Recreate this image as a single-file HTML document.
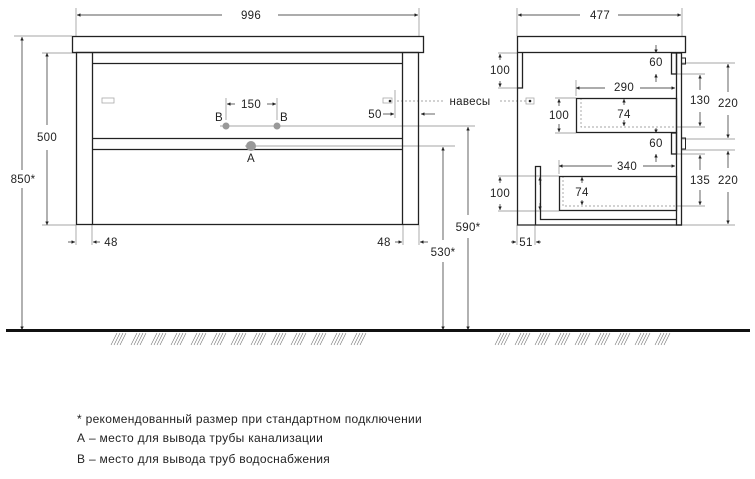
<!DOCTYPE html>
<html><head><meta charset="utf-8"><style>
html,body{margin:0;padding:0;background:#fff;width:755px;height:479px;overflow:hidden}
svg{display:block}
text{font-family:"Liberation Sans","DejaVu Sans",sans-serif;fill:#222}
</style></head><body>
<svg width="755" height="479" viewBox="0 0 755 479" xmlns="http://www.w3.org/2000/svg">
<defs>
<marker id="a" viewBox="0 0 6 6" refX="6" refY="3" markerWidth="5" markerHeight="5" orient="auto-start-reverse"><path d="M0,0L6,3L0,6z" fill="#222"/></marker>
<path id="hg" d="M0,13l6,-12m-3,12l6,-12m-3,12l6,-12m-3,12l6,-12" stroke="#777" stroke-width="0.6" fill="none"/>
</defs>
<g stroke="#888" stroke-width="0.7" fill="none">
<line x1="76" y1="8" x2="76" y2="36"/><line x1="419" y1="8" x2="419" y2="36"/>
<line x1="14" y1="36" x2="72" y2="36"/>
<line x1="42" y1="53" x2="76" y2="53"/><line x1="42" y1="225" x2="76" y2="225"/>
<line x1="76" y1="225" x2="76" y2="245"/><line x1="92" y1="225" x2="92" y2="245"/>
<line x1="403" y1="225" x2="403" y2="245"/><line x1="419" y1="225" x2="419" y2="245"/>
<line x1="226" y1="98" x2="226" y2="120"/><line x1="277" y1="98" x2="277" y2="120"/>
<line x1="395" y1="90" x2="395" y2="118"/>
<line x1="220" y1="126" x2="475" y2="126"/>
<line x1="245" y1="146" x2="455" y2="146"/>
<line x1="517" y1="8" x2="517" y2="36"/><line x1="682" y1="8" x2="682" y2="36"/>
<line x1="517" y1="225" x2="517" y2="245"/><line x1="535" y1="225" x2="535" y2="245"/>
<line x1="498" y1="53" x2="517" y2="53"/><line x1="498" y1="88" x2="522" y2="88"/>
<line x1="555" y1="98" x2="576" y2="98"/><line x1="555" y1="133" x2="576" y2="133"/>
<line x1="576" y1="80" x2="576" y2="96"/><line x1="559" y1="160" x2="559" y2="174"/>
<line x1="498" y1="176" x2="559" y2="176"/><line x1="498" y1="211" x2="559" y2="211"/>
<line x1="676" y1="74" x2="705" y2="74"/><line x1="676" y1="127" x2="705" y2="127"/>
<line x1="676" y1="154" x2="705" y2="154"/><line x1="676" y1="206" x2="705" y2="206"/>
<line x1="682" y1="63" x2="735" y2="63"/><line x1="682" y1="139" x2="735" y2="139"/>
<line x1="682" y1="150" x2="735" y2="150"/><line x1="682" y1="225" x2="735" y2="225"/>
</g>
<g stroke="#888" stroke-width="0.7" stroke-dasharray="2,2" fill="none">
<line x1="397" y1="101" x2="445" y2="101"/><line x1="500" y1="101" x2="528" y2="101"/>
<polyline points="581,98 581,127 676,127"/><polyline points="563,176 563,206 676,206"/>
</g>
<g stroke="#222" stroke-width="0.7" fill="none" marker-start="url(#a)" marker-end="url(#a)">
<line x1="77" y1="15" x2="222" y2="15" marker-end="none"/><line x1="278" y1="15" x2="418" y2="15" marker-start="none"/>
<line x1="22" y1="37" x2="22" y2="170" marker-end="none"/><line x1="22" y1="188" x2="22" y2="330" marker-start="none"/>
<line x1="47" y1="53" x2="47" y2="125" marker-end="none"/><line x1="47" y1="150" x2="47" y2="225" marker-start="none"/>
<line x1="227" y1="104" x2="235" y2="104" marker-end="none"/><line x1="267" y1="104" x2="276" y2="104" marker-start="none"/>
<line x1="383" y1="114" x2="394" y2="114" marker-start="none"/>
<line x1="435" y1="114" x2="421" y2="114" marker-start="none"/>
<line x1="68" y1="242" x2="75" y2="242" marker-start="none"/><line x1="100" y1="242" x2="93" y2="242" marker-start="none"/>
<line x1="395" y1="242" x2="402" y2="242" marker-start="none"/><line x1="428" y1="242" x2="420" y2="242" marker-start="none"/>
<line x1="468" y1="127" x2="468" y2="215" marker-end="none"/><line x1="468" y1="238" x2="468" y2="330" marker-start="none"/>
<line x1="443" y1="147" x2="443" y2="240" marker-end="none"/><line x1="443" y1="262" x2="443" y2="330" marker-start="none"/>
<line x1="518" y1="15" x2="580" y2="15" marker-end="none"/><line x1="618" y1="15" x2="681" y2="15" marker-start="none"/>
<line x1="500" y1="54" x2="500" y2="60" marker-end="none"/><line x1="500" y1="87" x2="500" y2="81" marker-end="none"/>
<line x1="576" y1="88" x2="605" y2="88" marker-end="none"/><line x1="640" y1="88" x2="675" y2="88" marker-start="none"/>
<line x1="559" y1="166" x2="612" y2="166" marker-end="none"/><line x1="643" y1="166" x2="675" y2="166" marker-start="none"/>
<line x1="559" y1="99" x2="559" y2="106" marker-end="none"/><line x1="559" y1="132" x2="559" y2="124" marker-end="none"/>
<line x1="624" y1="99" x2="624" y2="105" marker-end="none"/><line x1="624" y1="126" x2="624" y2="120" marker-end="none"/>
<line x1="656" y1="45" x2="656" y2="53" marker-start="none"/><line x1="656" y1="82" x2="656" y2="74" marker-start="none"/>
<line x1="656" y1="128" x2="656" y2="133" marker-start="none"/><line x1="656" y1="162" x2="656" y2="154" marker-start="none"/>
<line x1="540" y1="177" x2="540" y2="185" marker-end="none"/><line x1="540" y1="210" x2="540" y2="203" marker-end="none"/>
<line x1="582" y1="177" x2="582" y2="183" marker-end="none"/><line x1="582" y1="205" x2="582" y2="200" marker-end="none"/>
<line x1="500" y1="177" x2="500" y2="183" marker-end="none"/><line x1="500" y1="210" x2="500" y2="204" marker-end="none"/>
<line x1="700" y1="75" x2="700" y2="90" marker-end="none"/><line x1="700" y1="126" x2="700" y2="112" marker-end="none"/>
<line x1="700" y1="155" x2="700" y2="170" marker-end="none"/><line x1="700" y1="205" x2="700" y2="190" marker-end="none"/>
<line x1="728" y1="64" x2="728" y2="92" marker-end="none"/><line x1="728" y1="138" x2="728" y2="115" marker-end="none"/>
<line x1="728" y1="151" x2="728" y2="168" marker-end="none"/><line x1="728" y1="224" x2="728" y2="192" marker-end="none"/>
<line x1="511" y1="242" x2="516" y2="242" marker-start="none"/><line x1="541" y1="242" x2="536" y2="242" marker-start="none"/>
</g>
<g stroke="#222" stroke-width="1.3" fill="none">
<rect x="72.5" y="36.5" width="351" height="16"/>
<rect x="76.5" y="52.5" width="342" height="172"/>
<line x1="92.5" y1="53" x2="92.5" y2="225"/><line x1="402.5" y1="53" x2="402.5" y2="225"/>
<line x1="92" y1="63.5" x2="403" y2="63.5"/>
<line x1="92" y1="138.5" x2="403" y2="138.5"/><line x1="92" y1="149.5" x2="403" y2="149.5"/>
</g>
<g stroke="#aaa" stroke-width="0.8" fill="none"><rect x="102" y="98" width="12" height="5"/><rect x="383" y="98" width="9" height="5"/></g>
<circle cx="226" cy="126" r="3.5" fill="#999"/><circle cx="277" cy="126" r="3.5" fill="#999"/>
<circle cx="251" cy="146" r="5" fill="#999"/>
<circle cx="390" cy="101" r="1.3" fill="#222"/>
<g stroke="#222" stroke-width="1.3" fill="none">
<rect x="517.5" y="36.5" width="168" height="16"/>
<polyline points="517.5,53 517.5,225 682,225"/>
<polyline points="522.5,53 522.5,88 517.5,88"/>
<rect x="676.5" y="53" width="5" height="172"/>
<rect x="671.5" y="53" width="5" height="21"/><rect x="671.5" y="133" width="5" height="21"/>
<rect x="681.5" y="58" width="4" height="6" stroke-width="1"/><rect x="681.5" y="138" width="4" height="11" stroke-width="1"/>
<rect x="576.5" y="98.5" width="100" height="34"/>
<rect x="559.5" y="176.5" width="117" height="34"/>
<polyline points="535.5,225 535.5,166.5 540.5,166.5 540.5,219.5 676,219.5"/>
</g>
<rect x="526" y="98" width="8" height="6" stroke="#aaa" stroke-width="0.8" fill="none"/>
<circle cx="530" cy="101" r="1.3" fill="#222"/>
<rect x="6" y="329" width="744" height="3" fill="#111"/>
<g>
<use href="#hg" x="111" y="332"/><use href="#hg" x="131" y="332"/><use href="#hg" x="151" y="332"/><use href="#hg" x="171" y="332"/><use href="#hg" x="191" y="332"/><use href="#hg" x="211" y="332"/><use href="#hg" x="231" y="332"/><use href="#hg" x="251" y="332"/><use href="#hg" x="271" y="332"/><use href="#hg" x="291" y="332"/><use href="#hg" x="311" y="332"/><use href="#hg" x="331" y="332"/><use href="#hg" x="351" y="332"/>
<use href="#hg" x="495" y="332"/><use href="#hg" x="515" y="332"/><use href="#hg" x="535" y="332"/><use href="#hg" x="555" y="332"/><use href="#hg" x="575" y="332"/><use href="#hg" x="595" y="332"/><use href="#hg" x="615" y="332"/><use href="#hg" x="635" y="332"/><use href="#hg" x="655" y="332"/>
</g>
<g font-size="11.5" letter-spacing="0.3">
<text x="251" y="19" text-anchor="middle">996</text>
<text x="23" y="183" text-anchor="middle">850*</text>
<text x="47" y="141" text-anchor="middle">500</text>
<text x="251" y="108" text-anchor="middle">150</text>
<text x="219" y="121" text-anchor="middle">B</text><text x="284" y="121" text-anchor="middle">B</text>
<text x="251" y="162" text-anchor="middle">A</text>
<text x="375" y="118" text-anchor="middle">50</text>
<text x="470" y="105" text-anchor="middle">навесы</text>
<text x="111" y="246" text-anchor="middle">48</text>
<text x="384" y="246" text-anchor="middle">48</text>
<text x="468" y="231" text-anchor="middle">590*</text>
<text x="443" y="256" text-anchor="middle">530*</text>
<text x="600" y="19" text-anchor="middle">477</text>
<text x="500" y="74" text-anchor="middle">100</text>
<text x="656" y="66" text-anchor="middle">60</text>
<text x="624" y="91" text-anchor="middle">290</text>
<text x="559" y="119" text-anchor="middle">100</text>
<text x="624" y="118" text-anchor="middle">74</text>
<text x="700" y="104" text-anchor="middle">130</text>
<text x="728" y="107" text-anchor="middle">220</text>
<text x="656" y="147" text-anchor="middle">60</text>
<text x="627" y="170" text-anchor="middle">340</text>
<text x="582" y="196" text-anchor="middle">74</text>
<text x="500" y="197" text-anchor="middle">100</text>
<text x="700" y="184" text-anchor="middle">135</text>
<text x="728" y="184" text-anchor="middle">220</text>
<text x="526" y="246" text-anchor="middle">51</text>
</g>
<g font-size="12" letter-spacing="0.3">
<text x="77" y="423">* рекомендованный размер при стандартном подключении</text>
<text x="77" y="442">А – место для вывода трубы канализации</text>
<text x="77" y="463">В – место для вывода труб водоснабжения</text>
</g>
</svg>
</body></html>
